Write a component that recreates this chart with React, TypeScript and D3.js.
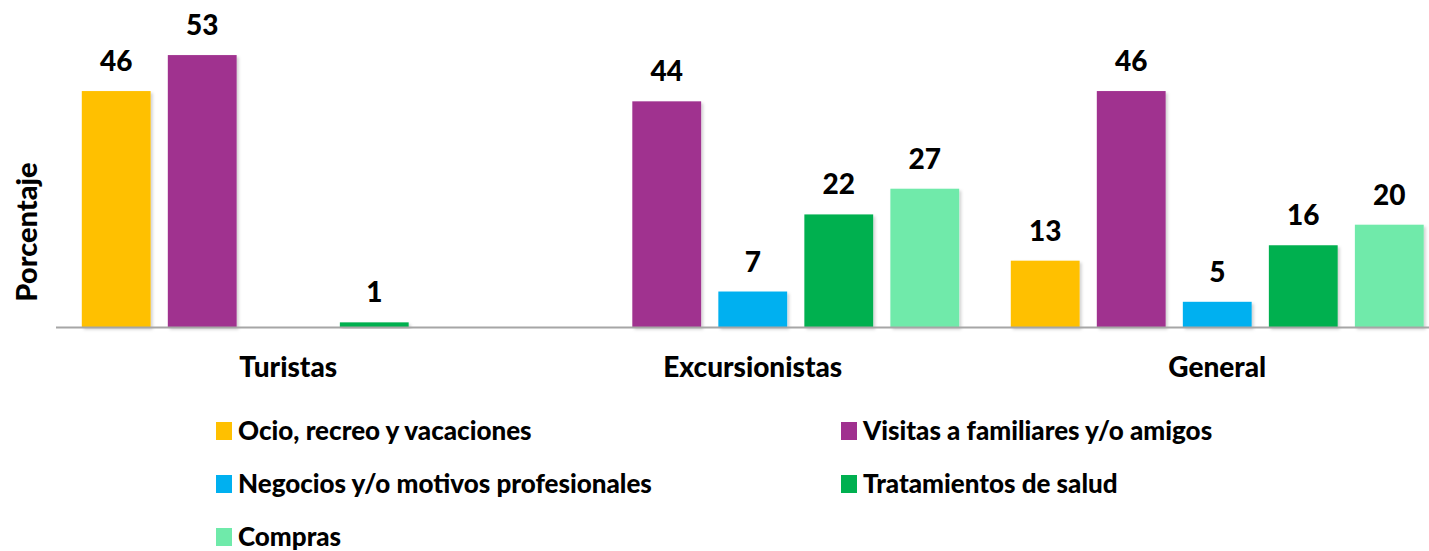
import React from "react";
import * as d3 from "d3";

const groups = ["Turistas", "Excursionistas", "General"];
const seriesNames = [
  "Ocio, recreo y vacaciones",
  "Visitas a familiares y/o amigos",
  "Negocios y/o motivos profesionales",
  "Tratamientos de salud",
  "Compras",
];
const ocio = [46, null, 13];
const visitas = [53, 44, 46];
const negocios = [null, 7, 5];
const tratamientos = [1, 22, 16];
const compras = [null, 27, 20];
const colors = ["#FFC000", "#A0308F", "#00B0F0", "#00B050", "#6FEAAA"];

const W = 1429;
const H = 551;
const FONT = "Lato, 'Open Sans', sans-serif";

const App = () => {
  const values = [ocio, visitas, negocios, tratamientos, compras];
  const baseline = 327.5;

  const x0 = d3.scaleBand().domain(groups).range([56, 56 + 464.5 * 3]);
  const x1 = d3
    .scaleBand()
    .domain(seriesNames)
    .range([0, x0.bandwidth()])
    .paddingInner(0.2)
    .paddingOuter(0.3);
  const y = d3.scaleLinear().domain([0, 60]).range([baseline, baseline - 60 * 5.14]);

  // legend: two columns, three rows
  const legendX = [216, 841];
  const legendY = [440, 493, 546];

  return (
    <svg
      width={W}
      height={H}
      style={{ position: "absolute", left: 0, top: 0, background: "#fff" }}
      fontFamily={FONT}
      fontWeight={900}
    >
      <defs>
        <filter id="shadow" x="-10%" y="-10%" width="130%" height="130%">
          <feDropShadow dx="2" dy="2" stdDeviation="1.5" floodColor="#000" floodOpacity="0.18" />
        </filter>
      </defs>

      {groups.map((g, gi) => (
        <g key={g} transform={`translate(${x0(g)},0)`}>
          {seriesNames.map((s, si) => {
            const v = values[si][gi];
            if (v == null) return null;
            const bx = x1(s) as number;
            return (
              <g key={s}>
                <rect
                  x={bx}
                  y={y(v)}
                  width={x1.bandwidth()}
                  height={baseline - y(v)}
                  fill={colors[si]}
                  filter="url(#shadow)"
                />
                <text
                  x={bx + x1.bandwidth() / 2}
                  y={y(v) - 20}
                  textAnchor="middle"
                  fontSize={28}
                  fill="#000"
                >
                  {v}
                </text>
              </g>
            );
          })}
          <text
            x={x0.bandwidth() / 2}
            y={377}
            textAnchor="middle"
            fontSize={28}
            fill="#000"
          >
            {g}
          </text>
        </g>
      ))}

      <line x1={56} x2={W} y1={baseline} y2={baseline} stroke="#A6A6A6" strokeWidth={2} />

      <text
        transform={`translate(37,232) rotate(-90)`}
        textAnchor="middle"
        fontSize={29}
        fill="#000"
      >
        Porcentaje
      </text>

      {seriesNames.map((s, i) => {
        const lx = legendX[i % 2];
        const ly = legendY[Math.floor(i / 2)];
        return (
          <g key={s}>
            <rect x={lx} y={ly - 18} width={16} height={18} fill={colors[i]} />
            <text x={lx + 22} y={ly} fontSize={26} fill="#000">
              {s}
            </text>
          </g>
        );
      })}
    </svg>
  );
};

export default App;
